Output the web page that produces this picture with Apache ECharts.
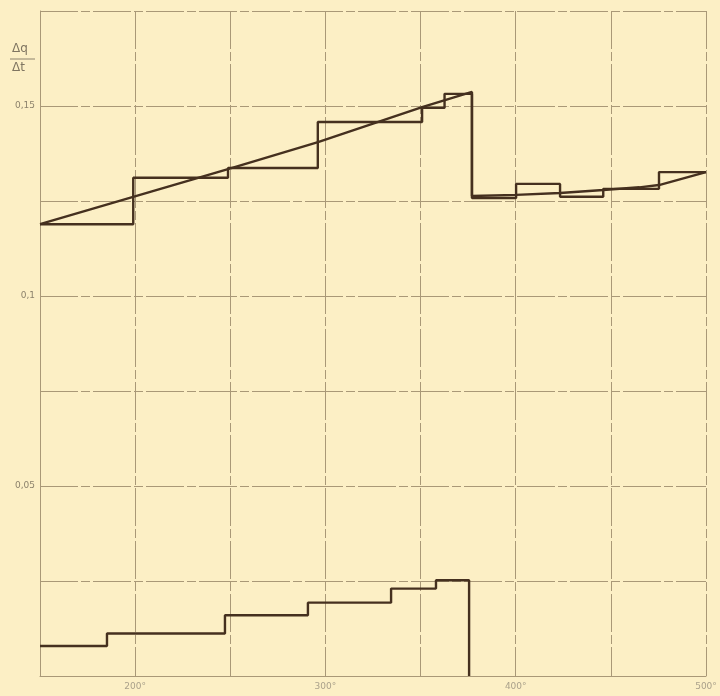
<!DOCTYPE html>
<html>
<head>
<meta charset="utf-8">
<script src="https://cdn.jsdelivr.net/npm/echarts@6/dist/echarts.min.js"></script>
<style>
  html, body { margin: 0; padding: 0; background: #fcefc5; }
  #chart { width: 720px; height: 696px; }
</style>
</head>
<body>
<div id="chart"></div>
<script>
// temperature (°) where each step starts, and the step level
var upperStepX = [150, 199, 248.8, 296, 350.8, 362.6, 377, 400.2, 423.3, 446, 475.3, 500]
var upperStepY = [0.1189, 0.1311, 0.1337, 0.1458, 0.1495, 0.1532, 0.1258, 0.1295, 0.1261, 0.1282, 0.1326, 0.1326]

// smooth (mean) curve
var smoothX = [150, 248.8, 296.1, 350.8, 377, 377, 400.2, 423.3, 446, 465, 475.3, 500]
var smoothY = [0.1189, 0.1334, 0.1405, 0.1497, 0.1537, 0.1263, 0.1266, 0.1271, 0.1279, 0.1286, 0.1292, 0.1326]

// lower step curve
var lowerStepX = [150, 185.2, 247.2, 290.8, 334.5, 358.1, 375.5]
var lowerStepY = [0.0079, 0.0112, 0.016, 0.0193, 0.023, 0.0252, 0]

var xTickLabels = { 200: '200°', 300: '300°', 400: '400°', 500: '500°' }
var yTickLabels = { '0.05': '0,05', '0.1': '0,1', '0.15': '0,15' }

function pairs(xs, ys) {
  var out = []
  xs.forEach(function(x, i) { out.push([x, ys[i]]) })
  return out
}

var ink = '#45301f'
var gridColor = '#a99877'

var chart = echarts.init(document.getElementById('chart'))
chart.setOption({
  backgroundColor: '#fcefc5',
  animation: false,
  grid: { left: 40, right: 14, top: 11, bottom: 20 },
  xAxis: {
    type: 'value',
    min: 150,
    max: 500,
    interval: 50,
    axisLine: { lineStyle: { color: gridColor, width: 1 } },
    axisTick: { show: false },
    splitLine: { show: true, lineStyle: { color: gridColor, width: 1, type: [38, 3, 9, 3] } },
    axisLabel: {
      color: '#aaa18b',
      fontSize: 9,
      fontFamily: 'DejaVu Sans',
      margin: 6,
      formatter: function(v) { return xTickLabels[v] || '' }
    }
  },
  yAxis: {
    type: 'value',
    min: 0,
    max: 0.175,
    interval: 0.025,
    axisLine: { show: true, lineStyle: { color: gridColor, width: 1 } },
    axisTick: { show: false },
    splitLine: { show: true, lineStyle: { color: gridColor, width: 1, type: [38, 3, 9, 3] } },
    axisLabel: {
      color: '#8c826c',
      fontSize: 9,
      fontFamily: 'DejaVu Sans',
      margin: 5,
      formatter: function(v) { return yTickLabels[String(+v.toFixed(3))] || '' }
    }
  },
  graphic: [
    { type: 'text', left: 12, top: 43, style: { text: 'Δq', fill: '#7f7561', font: '12px DejaVu Sans' } },
    { type: 'line', shape: { x1: 10, y1: 59, x2: 35, y2: 59 }, style: { stroke: '#8c826c', lineWidth: 1 } },
    { type: 'text', left: 12, top: 62, style: { text: 'Δt', fill: '#7f7561', font: '12px DejaVu Sans' } }
  ],
  series: [
    {
      type: 'line',
      step: 'end',
      symbol: 'none',
      data: pairs(upperStepX, upperStepY),
      lineStyle: { color: ink, width: 2.4 }
    },
    {
      type: 'line',
      symbol: 'none',
      data: pairs(smoothX, smoothY),
      lineStyle: { color: ink, width: 2.4 }
    },
    {
      type: 'line',
      step: 'end',
      symbol: 'none',
      data: pairs(lowerStepX, lowerStepY),
      lineStyle: { color: ink, width: 2.4 }
    }
  ]
})
</script>
</body>
</html>
